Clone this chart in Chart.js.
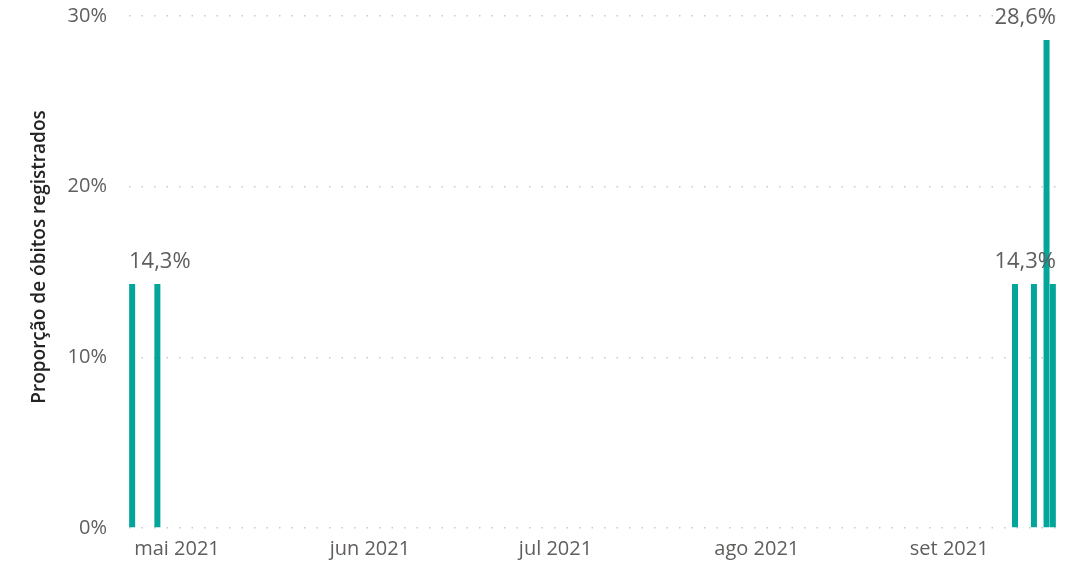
<!DOCTYPE html>
<html lang="pt-BR">
<head>
<meta charset="utf-8">
<title>Proporção de óbitos registrados</title>
<script src="https://cdn.jsdelivr.net/npm/chart.js@4/dist/chart.umd.min.js"></script>
<style>
  html, body { margin: 0; padding: 0; background: #ffffff; }
  #wrap { width: 1085px; height: 566px; position: relative; }
</style>
</head>
<body>
<div id="wrap"><canvas id="deathsChart"></canvas></div>
<script>
// Dias com óbitos registrados e a proporção (%) de cada dia
const dates = ['2021-05-01', '2021-05-05', '2021-09-18', '2021-09-21', '2021-09-23', '2021-09-24'];
const shares = [14.3, 14.3, 14.3, 14.3, 28.6, 14.3];
// Somente estas barras recebem rótulo (as outras se sobrepõem)
const labelledBars = [0, 4, 5];

const monthStarts = ['2021-05-01', '2021-06-01', '2021-07-01', '2021-08-01', '2021-09-01'];
const monthLabels = ['mai 2021', 'jun 2021', 'jul 2021', 'ago 2021', 'set 2021'];
const yTicks = [0, 10, 20, 30];
const yTitle = 'Proporção de óbitos registrados';

const DAY = 86400000;
const origin = Date.UTC(2021, 4, 1);

function dayIndex(iso) {
  const [y, m, d] = iso.split('-').map(Number);
  return Math.round((Date.UTC(y, m - 1, d) - origin) / DAY);
}

function formatPct(v) {
  return v.toFixed(1).replace('.', ',') + '%';
}

const points = dates.map((d, i) => ({ x: dayIndex(d), y: shares[i] }));
const monthTicks = monthStarts.map(dayIndex);

const barLabels = {
  id: 'barLabels',
  afterDatasetsDraw(chart) {
    const { ctx, chartArea } = chart;
    const meta = chart.getDatasetMeta(0);
    ctx.save();
    ctx.font = '22px "Open Sans", sans-serif';
    ctx.fillStyle = '#605e5c';
    ctx.textBaseline = 'alphabetic';
    ctx.textAlign = 'left';
    labelledBars.forEach((i) => {
      const bar = meta.data[i];
      const text = formatPct(shares[i]);
      const w = ctx.measureText(text).width;
      let x = bar.x - w / 2;
      // keep label inside the plot area
      if (x < chartArea.left) x = chartArea.left;
      if (x + w > chartArea.right) x = chartArea.right - w;
      ctx.fillText(text, x, bar.y - 16);
    });
    ctx.restore();
  }
};

// Power BI centres the axis title a bit above the plot middle
const axisTitle = {
  id: 'axisTitle',
  afterDraw(chart) {
    const { ctx, chartArea } = chart;
    ctx.save();
    ctx.font = '600 19px "Open Sans", sans-serif';
    ctx.fillStyle = '#252423';
    ctx.textAlign = 'center';
    ctx.textBaseline = 'middle';
    ctx.translate(40, (chartArea.top + chartArea.bottom) / 2 - 15);
    ctx.rotate(-Math.PI / 2);
    ctx.fillText(yTitle, 0, 0);
    ctx.restore();
  }
};

const ctx = document.getElementById('deathsChart').getContext('2d');
new Chart(ctx, {
  type: 'bar',
  data: {
    datasets: [
      {
        data: points,
        backgroundColor: '#02a59a',
        borderWidth: 0,
        categoryPercentage: 1,
        barPercentage: 0.95
      }
    ]
  },
  options: {
    responsive: true,
    maintainAspectRatio: false,
    animation: false,
    layout: { padding: { top: 0, right: 29, left: 0, bottom: 0 } },
    plugins: {
      legend: { display: false },
      tooltip: { enabled: false }
    },
    scales: {
      x: {
        type: 'linear',
        offset: false,
        min: points[0].x - 0.5,
        max: points[points.length - 1].x + 0.5,
        grid: { display: false, drawTicks: false },
        border: { display: false },
        afterBuildTicks(scale) {
          scale.ticks = monthTicks.map((v) => ({ value: v }));
        },
        afterFit(scale) {
          scale.height = 38;
          scale.paddingLeft = 0;
          scale.paddingRight = 0;
        },
        ticks: {
          align: 'start',
          labelOffset: 2,
          padding: 9,
          maxRotation: 0,
          autoSkip: false,
          color: '#605e5c',
          font: { family: '"Open Sans", sans-serif', size: 20 },
          callback: (value, index) => monthLabels[index]
        }
      },
      y: {
        min: 0,
        max: 30,
        afterBuildTicks(scale) {
          scale.ticks = yTicks.map((v) => ({ value: v }));
        },
        afterFit(scale) {
          scale.width = 129;
          scale.paddingTop = 16;
          scale.paddingBottom = 0;
        },
        grid: { color: '#c8c8c8', lineWidth: 1.5, drawTicks: false },
        border: { display: false, dash: [1.5, 11] },
        ticks: {
          padding: 22,
          color: '#605e5c',
          font: { family: '"Open Sans", sans-serif', size: 20 },
          callback: (value) => value + '%'
        }
      }
    }
  },
  plugins: [barLabels, axisTitle]
});
</script>
</body>
</html>
